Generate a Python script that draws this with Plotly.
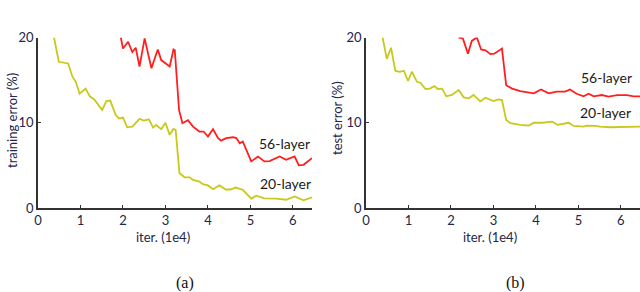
import plotly.graph_objects as go

# (a) training error
train20_x = [0.376, 0.49, 0.71, 0.81, 0.89, 0.98, 1.12, 1.22, 1.33, 1.51, 1.61, 1.70, 1.83, 1.91, 2.00, 2.10,
             2.22, 2.39, 2.49, 2.61, 2.71, 2.78, 2.90, 3.00, 3.10, 3.19, 3.24, 3.33, 3.45, 3.57, 3.65, 3.80,
             3.88, 4.00, 4.12, 4.27, 4.43, 4.55, 4.65, 4.82, 5.02, 5.14, 5.33, 5.61, 5.84, 6.04, 6.25, 6.45]
train20_y = [20.0, 17.15, 16.96, 15.4, 14.8, 13.4, 14.0, 13.1, 12.7, 11.5, 12.55, 12.6, 10.9, 10.5, 10.6, 9.47,
             9.55, 10.45, 10.25, 10.4, 9.43, 9.75, 9.24, 10.0, 8.58, 9.28, 9.16, 4.1, 3.6, 3.6, 3.3, 3.1,
             2.8, 2.65, 2.2, 2.65, 2.14, 2.2, 2.4, 2.14, 1.1, 1.45, 1.13, 1.1, 0.97, 1.36, 0.9, 1.25]
train56_x = [1.95, 2.00, 2.12, 2.22, 2.30, 2.39, 2.51, 2.67, 2.82, 2.90, 3.10, 3.19, 3.22, 3.32, 3.40, 3.47,
             3.53, 3.65, 3.80, 3.90, 4.00, 4.12, 4.24, 4.31, 4.43, 4.59, 4.67, 4.75, 4.82, 5.02, 5.18, 5.33,
             5.45, 5.69, 5.84, 6.04, 6.14, 6.25, 6.45]
train56_y = [20.0, 18.7, 19.5, 18.3, 18.8, 16.6, 19.9, 16.4, 18.6, 17.35, 16.6, 18.6, 18.5, 11.5, 9.94, 10.1,
             10.3, 9.55, 8.97, 8.97, 8.38, 9.24, 8.2, 7.9, 8.2, 8.3, 8.2, 7.6, 7.8, 5.46, 6.04, 5.46,
             5.5, 6.04, 5.65, 6.04, 5.0, 5.07, 5.85]

# (b) test error
test20_x = [0.39, 0.49, 0.59, 0.69, 0.79, 0.89, 0.99, 1.08, 1.20, 1.28, 1.40, 1.50, 1.61, 1.69, 1.79, 1.89,
            2.02, 2.18, 2.30, 2.42, 2.53, 2.69, 2.81, 3.00, 3.11, 3.20, 3.30, 3.40, 3.63, 3.83, 3.95, 4.15,
            4.38, 4.51, 4.77, 4.89, 5.12, 5.20, 5.40, 5.51, 5.75, 6.02, 6.22, 6.45]
test20_y = [20.0, 17.5, 18.8, 16.1, 15.98, 16.1, 14.9, 15.98, 14.8, 14.7, 13.96, 14.0, 14.3, 13.96, 14.0, 13.1,
            13.26, 13.84, 12.98, 12.87, 13.26, 12.5, 12.94, 12.55, 12.75, 12.67, 10.33, 9.94, 9.75, 9.67, 10.0, 10.0,
            10.14, 9.75, 10.0, 9.63, 9.55, 9.67, 9.63, 9.55, 9.47, 9.47, 9.55, 9.55]
test56_x = [2.18, 2.28, 2.40, 2.49, 2.61, 2.71, 2.81, 2.93, 3.02, 3.20, 3.30, 3.44, 3.63, 3.95, 4.12, 4.30,
            4.49, 4.69, 4.80, 4.96, 5.12, 5.24, 5.36, 5.55, 5.71, 5.91, 6.14, 6.30, 6.45]
test56_y = [20.0, 19.9, 18.1, 19.6, 20.0, 18.6, 18.5, 18.05, 18.1, 18.7, 14.4, 14.0, 13.7, 13.45, 13.9, 13.45,
            13.65, 13.65, 13.9, 13.4, 13.1, 13.4, 13.1, 13.25, 13.06, 13.25, 13.25, 13.1, 13.1]

x_ticks = [0, 1, 2, 3, 4, 5, 6]
y_ticks = [0, 10, 20]
y_titles = ["training error (%)", "test error (%)"]
x_title = "iter. (1e4)"
series_names = ["20-layer", "56-layer"]
panel_labels = ["(a)", "(b)"]

YELLOW = "#c9c91c"
RED = "#ff1f1f"
AX = "#333333"
TXT = "#22264a"

fig = go.Figure()
fig.add_trace(go.Scatter(x=train20_x, y=train20_y, mode="lines", line=dict(color=YELLOW, width=1.8),
                         xaxis="x", yaxis="y", showlegend=False))
fig.add_trace(go.Scatter(x=train56_x, y=train56_y, mode="lines", line=dict(color=RED, width=1.8),
                         xaxis="x", yaxis="y", showlegend=False))
fig.add_trace(go.Scatter(x=test20_x, y=test20_y, mode="lines", line=dict(color=YELLOW, width=1.8),
                         xaxis="x2", yaxis="y2", showlegend=False))
fig.add_trace(go.Scatter(x=test56_x, y=test56_y, mode="lines", line=dict(color=RED, width=1.8),
                         xaxis="x2", yaxis="y2", showlegend=False))

ax_common = dict(showline=True, linecolor=AX, linewidth=1.5, showgrid=False, zeroline=False,
                 ticks="inside", ticklen=3, tickcolor=AX, tickwidth=1, automargin=False,
                 tickfont=dict(family="Lato", size=13, color=TXT))
y_dom = [84 / 292, 254.5 / 292]
fig.update_layout(
    width=640, height=292,
    margin=dict(l=0, r=0, t=0, b=0),
    paper_bgcolor="white", plot_bgcolor="white",
    xaxis=dict(domain=[38 / 640, 312 / 640], range=[0, 6.45], tickvals=x_ticks, anchor="y", **ax_common),
    yaxis=dict(domain=y_dom, range=[0, 20], tickvals=y_ticks, anchor="x", **ax_common),
    xaxis2=dict(domain=[366 / 640, 1.0], range=[0, 6.45], tickvals=x_ticks, anchor="y2", **ax_common),
    yaxis2=dict(domain=y_dom, range=[0, 20], tickvals=y_ticks, anchor="x2", **ax_common),
)

ann = []
# axis titles
ann.append(dict(x=12, y=292 - 121, text=y_titles[0], textangle=-90))
ann.append(dict(x=337, y=292 - 118, text=y_titles[1], textangle=-90))
ann.append(dict(x=163, y=292 - 237, text=x_title))
ann.append(dict(x=490, y=292 - 237, text=x_title))
for a in ann:
    a.update(xref="paper", yref="paper", showarrow=False, xanchor="center", yanchor="middle",
             font=dict(family="Lato", size=13, color=TXT))
    a["x"] = a["x"] / 640
    a["y"] = a["y"] / 292

# series labels
lab = [
    dict(x=284, y=143, text=series_names[1]),
    dict(x=285, y=183, text=series_names[0]),
    dict(x=606, y=77, text=series_names[1]),
    dict(x=605, y=112, text=series_names[0]),
]
for a in lab:
    a.update(xref="paper", yref="paper", showarrow=False, xanchor="center", yanchor="middle",
             font=dict(family="Lato", size=14, color="#1a1a1a"))
    a["x"] = a["x"] / 640
    a["y"] = (292 - a["y"]) / 292
    ann.append(a)

for px, t in zip([185, 515], panel_labels):
    ann.append(dict(x=px / 640, y=(292 - 283) / 292, text=t, xref="paper", yref="paper", showarrow=False,
                    xanchor="center", yanchor="middle",
                    font=dict(family="Liberation Serif", size=16, color="#111111")))

fig.update_layout(annotations=ann)
fig.write_html("out.html", config={"displayModeBar": False},
               post_script="document.body.style.margin='0';document.body.style.overflow='hidden';")
